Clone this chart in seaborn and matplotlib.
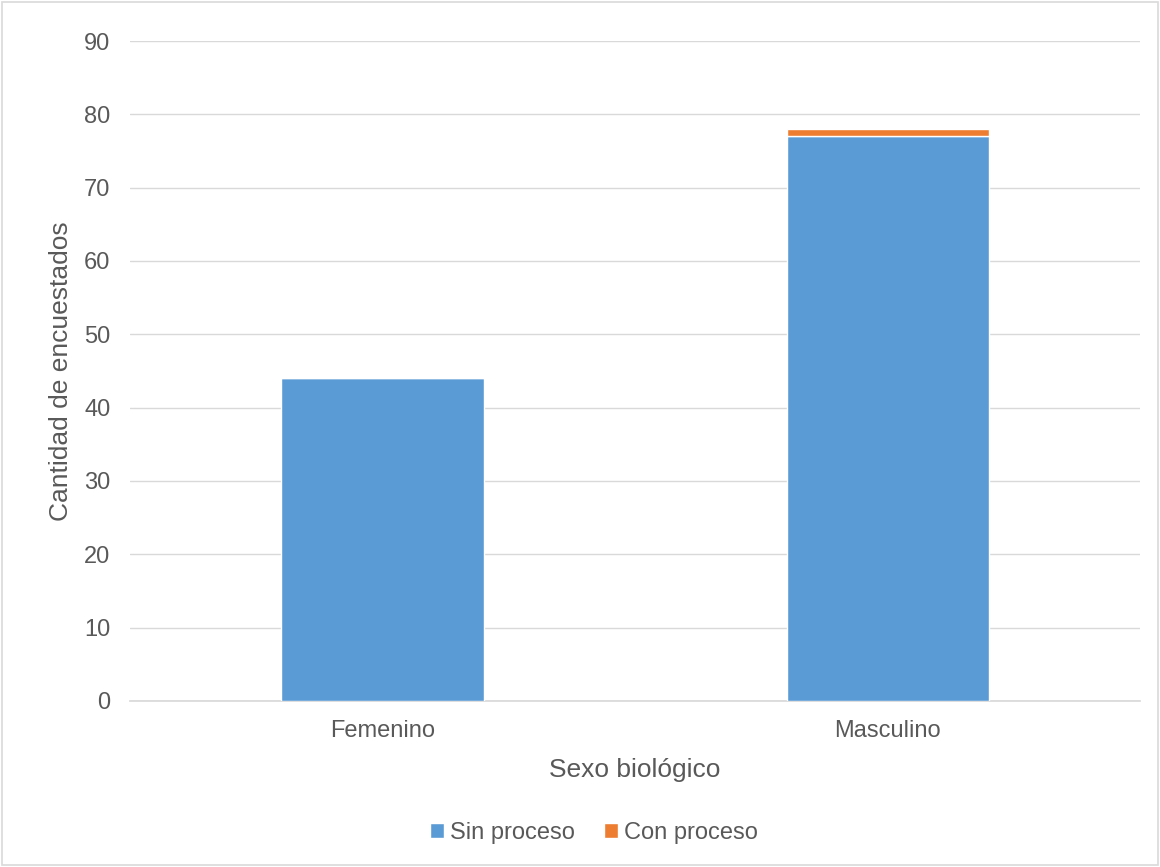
import pandas as pd
import seaborn as sns
import matplotlib.pyplot as plt
from matplotlib.patches import Rectangle

categories = ['Femenino', 'Masculino']
sin_proceso = [44, 77]
con_proceso = [0, 1]
yticks = [0, 10, 20, 30, 40, 50, 60, 70, 80, 90]

sns.set_theme(style='white')
plt.rcParams['font.family'] = ['Liberation Sans', 'DejaVu Sans']

df = pd.DataFrame({'sexo': categories, 'sin': sin_proceso, 'con': con_proceso})

fig = plt.figure(figsize=(11.6, 8.67), dpi=100)
ax = fig.add_axes([0.112, 0.1915, 0.871, 0.7612])

txt = '#595959'
sns.barplot(data=df, x='sexo', y='sin', color='#5b9bd5', saturation=1,
            width=0.4, ax=ax, label='Sin proceso', zorder=3)
sns.barplot(data=df, x='sexo', y='con', bottom=df['sin'], color='#ed7d31',
            saturation=1, width=0.4, ax=ax, label='Con proceso', zorder=3)

ax.set_xlim(-0.5, 1.5)
ax.set_ylim(0, 90)
ax.set_yticks(yticks)
ax.yaxis.grid(True, color='#d9d9d9', linewidth=1, zorder=0)
ax.set_axisbelow(True)
for s in ['top', 'right', 'left']:
    ax.spines[s].set_visible(False)
ax.spines['bottom'].set_color('#d9d9d9')
ax.tick_params(axis='both', colors=txt, labelsize=17, length=0)
ax.tick_params(axis='x', pad=14)
ax.tick_params(axis='y', pad=14)
ax.set_xlabel('Sexo biológico', fontsize=19, color=txt, labelpad=11)
ax.set_ylabel('Cantidad de encuestados', fontsize=19, color=txt, labelpad=8)

ax.legend(loc='center', bbox_to_anchor=(0.512, 0.039), bbox_transform=fig.transFigure,
          ncol=2, frameon=False, fontsize=17, labelcolor=txt, handlelength=0.6,
          handleheight=0.6, handletextpad=0.25, columnspacing=1.2)

fig.patches.append(Rectangle((0.002, 0.002), 0.996, 0.996, transform=fig.transFigure,
                             fill=False, edgecolor='#d9d9d9', linewidth=1.2))

fig.savefig('out.png', dpi=100)
